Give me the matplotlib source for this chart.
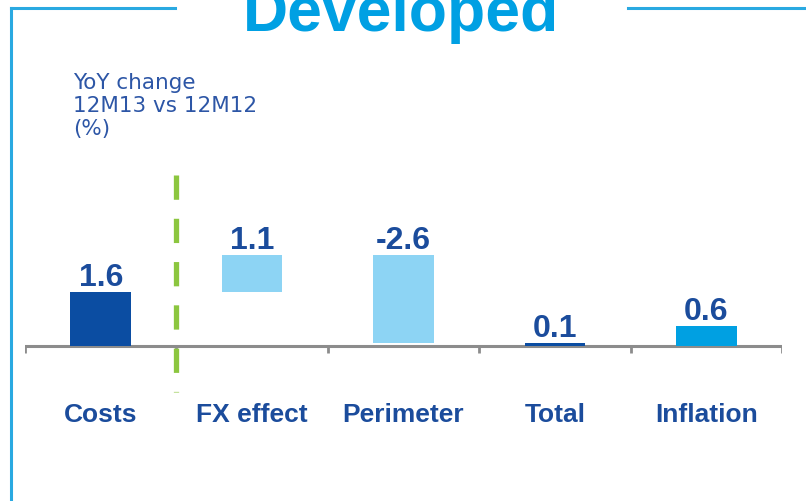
import numpy as np
from matplotlib import pyplot as plt
from matplotlib.lines import Line2D


def waterfall_bounds(changes, kinds):
    """
    Args:
        changes: list of yoy changes in %
        kinds: list with 'total', 'step' or 'free' for each bar

    Returns:
        bottoms, heights of the bars
    """
    bottoms = []
    heights = []
    level = 0.0
    for change, kind in zip(changes, kinds):
        if kind == 'step':
            start = level
            level = level + change
            bottoms.append(min(start, level))
            heights.append(abs(change))
        else:
            if kind == 'total':
                level = change
            bottoms.append(min(0.0, change))
            heights.append(abs(change))
    return np.array(bottoms), np.array(heights)


def main():
    categories = ['Costs', 'FX effect', 'Perimeter', 'Total', 'Inflation']
    changes = [1.6, 1.1, -2.6, 0.1, 0.6]
    kinds = ['total', 'step', 'step', 'total', 'free']
    colors = ['#0b4da2', '#8dd4f4', '#8dd4f4', '#0b4da2', '#00a0e2']
    labels = ['1.6', '1.1', '-2.6', '0.1', '0.6']
    text_blue = '#1b4c9c'
    frame_blue = '#2aa9e1'

    bottoms, heights = waterfall_bounds(changes, kinds)
    x = np.arange(len(categories))

    fig = plt.figure(figsize=(8.06, 5.02), dpi=100)
    ax = fig.add_axes([25/806, 62/502, 757/806, 280/502])
    ax.bar(x, heights, bottom=bottoms, width=0.4, color=colors, zorder=2)
    ax.axhline(0, color='#8c8c8c', lw=2.2, zorder=1)
    ax.vlines(np.arange(-0.5, 5.0), -0.2, 0, color='#8c8c8c', lw=2.0, zorder=1)
    # green divider between costs and the breakdown
    ax.plot([0.5, 0.5], [5.07, -1.36], color='#8cc63f', lw=3.8,
            dashes=(4.6, 3.6), solid_capstyle='butt', zorder=3, clip_on=False)

    for i, label in enumerate(labels):
        ax.annotate(label, xy=(x[i], bottoms[i] + heights[i]), xytext=(0, 5),
                    textcoords='offset points', ha='center', va='baseline',
                    fontsize=23, fontweight='bold', family='Liberation Sans',
                    color=text_blue)
        ax.text(x[i], -2.22, categories[i], ha='center', va='baseline',
                fontsize=19, fontweight='bold', family='Liberation Sans',
                color=text_blue)

    ax.set_xlim(-0.5, 4.5)
    ax.set_ylim(-93/33.75, 187/33.75)
    ax.axis('off')

    fig.text(73/806, 1 - 73/502, 'YoY change\n12M13 vs 12M12\n(%)', ha='left',
             va='top', fontsize=15.5, color='#2d56a6', linespacing=1.2)
    fig.text(401/806, 1 - 31/502, 'Developed', ha='center', va='baseline',
             fontsize=45, fontweight='bold', family='Liberation Sans',
             color='#00a0e3')

    # frame round the panel
    y_top = 1 - 8.5/502
    fig.add_artist(Line2D([10.5/806, 10.5/806], [0, y_top], color=frame_blue, lw=2.2))
    fig.add_artist(Line2D([10.5/806, 175/806], [y_top, y_top], color=frame_blue, lw=2.2))
    fig.add_artist(Line2D([628/806, 1], [y_top, y_top], color=frame_blue, lw=2.2))

    plt.savefig('out.png', dpi=100)


if __name__ == "__main__":
    main()
